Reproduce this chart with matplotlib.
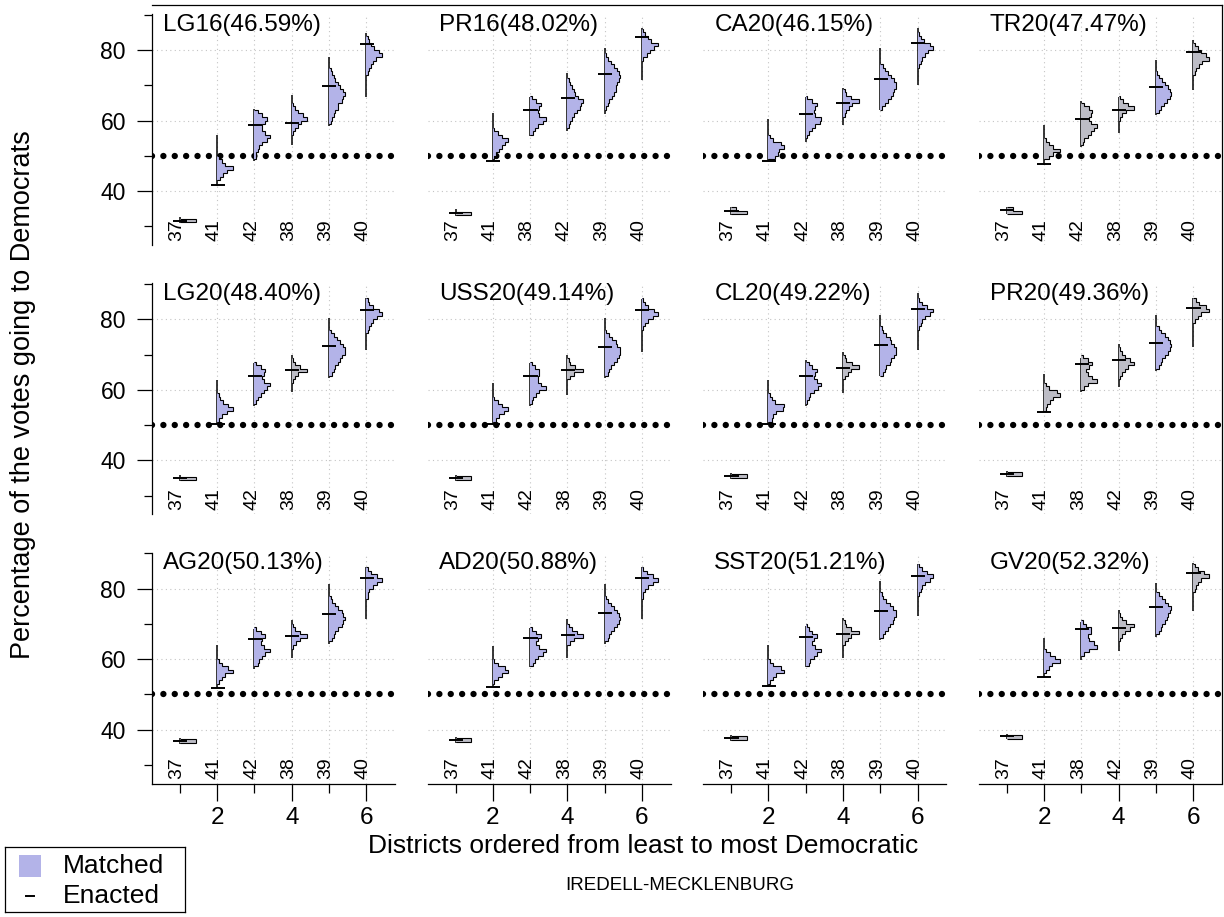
import matplotlib
matplotlib.use("Agg")
import matplotlib.pyplot as plt
from matplotlib.lines import Line2D
from matplotlib.patches import Rectangle

plt.rcParams["font.family"] = ["Liberation Sans", "DejaVu Sans"]

# ---------------------------------------------------------------- data
PLANS = ["LG16(46.59%)", "PR16(48.02%)", "CA20(46.15%)", "TR20(47.47%)",
         "LG20(48.40%)", "USS20(49.14%)", "CL20(49.22%)", "PR20(49.36%)",
         "AG20(50.13%)", "AD20(50.88%)", "SST20(51.21%)", "GV20(52.32%)"]

# districts in order from least to most Democratic, per election
DISTRICTS = [
    [37, 41, 42, 38, 39, 40],
    [37, 41, 38, 42, 39, 40],
    [37, 41, 42, 38, 39, 40],
    [37, 41, 42, 38, 39, 40],
    [37, 41, 42, 38, 39, 40],
    [37, 41, 42, 38, 39, 40],
    [37, 41, 42, 38, 39, 40],
    [37, 41, 38, 42, 39, 40],
    [37, 41, 42, 38, 39, 40],
    [37, 41, 42, 38, 39, 40],
    [37, 41, 42, 38, 39, 40],
    [37, 41, 38, 42, 39, 40],
]

# Democratic share under the enacted map
ENACTED = [
    [31.6, 41.6, 58.8, 59.2, 69.8, 81.6],
    [33.7, 48.4, 63.0, 66.5, 73.1, 83.8],
    [34.4, 48.4, 61.9, 64.9, 71.8, 82.1],
    [34.7, 47.7, 60.5, 63.0, 69.4, 79.3],
    [35.0, 50.3, 64.0, 65.5, 72.3, 82.5],
    [35.0, 50.2, 63.8, 65.5, 72.1, 82.6],
    [35.6, 50.3, 64.0, 66.1, 72.7, 82.8],
    [36.2, 53.6, 67.3, 68.5, 73.2, 83.1],
    [36.8, 51.7, 65.6, 66.5, 72.9, 83.0],
    [37.0, 52.0, 66.0, 66.8, 73.2, 83.0],
    [37.7, 52.3, 66.3, 67.1, 73.7, 83.5],
    [38.1, 54.9, 68.6, 68.8, 74.7, 84.3],
]

# full extent of the matched ensemble
RANGE_LO = [
    [30.8, 41.5, 48.4, 53.1, 58.5, 66.6],
    [33.0, 48.4, 55.5, 57.1, 61.9, 71.5],
    [33.3, 48.4, 54.0, 58.8, 63.0, 70.1],
    [33.4, 47.4, 52.6, 56.4, 61.6, 68.7],
    [34.2, 50.1, 55.3, 59.5, 63.3, 71.3],
    [34.1, 50.0, 55.3, 58.6, 63.3, 70.8],
    [34.8, 50.1, 55.3, 59.2, 63.9, 71.3],
    [35.4, 53.6, 59.5, 60.9, 65.2, 72.1],
    [36.0, 51.7, 57.3, 60.2, 64.4, 71.5],
    [36.2, 52.0, 57.8, 60.2, 64.4, 71.5],
    [36.9, 52.1, 57.8, 60.2, 65.4, 72.3],
    [37.3, 54.8, 59.8, 62.2, 66.2, 73.5],
]
RANGE_HI = [
    [32.6, 55.9, 63.2, 67.3, 78.1, 84.7],
    [35.0, 62.1, 66.8, 73.4, 80.5, 86.1],
    [35.6, 60.4, 66.8, 69.1, 80.5, 86.1],
    [35.6, 58.8, 65.4, 66.8, 77.2, 82.8],
    [35.8, 62.8, 67.5, 69.9, 80.3, 86.0],
    [35.9, 61.9, 67.5, 69.9, 80.3, 85.7],
    [36.5, 62.8, 68.5, 70.8, 81.2, 87.4],
    [37.0, 64.5, 69.0, 73.0, 81.2, 86.0],
    [37.6, 63.9, 68.5, 71.0, 81.4, 86.1],
    [37.8, 63.8, 68.7, 71.5, 81.4, 86.1],
    [38.5, 63.9, 69.4, 71.7, 82.1, 87.1],
    [38.9, 65.9, 70.4, 74.0, 81.7, 87.2],
]

# histogram of the matched ensemble: lower edge of first 1-point bin + counts
HIST_START = [
    [31.2, 43, 49, 56, 59, 73],
    [33.1, 49, 56, 58, 63, 77],
    [33.4, 49, 55, 61, 63, 75],
    [33.4, 49, 53, 60, 62, 73],
    [34.4, 51, 56, 62, 64, 76],
    [34.5, 51, 56, 63, 64, 77],
    [35.0, 51, 56, 63, 64, 77],
    [35.6, 54, 60, 63, 66, 79],
    [36.3, 53, 58, 63, 65, 77],
    [36.5, 53, 58, 64, 65, 77],
    [37.2, 53, 58, 64, 66, 78],
    [37.4, 56, 61, 65, 67, 79],
]
HIST_COUNTS = [
    [[10], [2, 4, 6, 10, 5, 3, 1], [1, 1, 2, 3, 5, 8, 10, 7, 5, 5, 7, 8, 5, 2],
     [1, 2, 4, 6, 10, 7, 4, 2, 1], [1, 2, 3, 4, 6, 6, 8, 9, 10, 9, 7, 6, 4, 3, 2, 1],
     [1, 2, 3, 4, 6, 10, 8, 5, 3, 2, 1]],
    [[10], [1, 2, 4, 6, 8, 10, 6, 3, 1], [2, 3, 5, 8, 10, 6, 5, 6, 7, 4, 1],
     [1, 2, 3, 4, 6, 8, 9, 10, 7, 5, 4, 3, 2, 1], [1, 2, 3, 5, 6, 7, 7, 8, 9, 10, 9, 8, 6, 4, 2, 1],
     [1, 3, 5, 8, 10, 6, 4, 2, 1]],
    [[10, 3], [4, 6, 7, 10, 8, 3, 1], [1, 2, 4, 6, 9, 10, 6, 5, 6, 7, 4, 1],
     [1, 2, 4, 6, 10, 5, 2, 1], [1, 3, 5, 7, 8, 9, 10, 10, 9, 7, 5, 3, 2],
     [1, 2, 3, 5, 7, 10, 8, 4, 2, 1]],
    [[10, 4], [3, 6, 10, 6, 3, 1], [1, 2, 4, 6, 8, 10, 6, 5, 6, 7, 5, 2],
     [1, 2, 5, 10, 6, 3, 1], [2, 3, 5, 7, 9, 10, 9, 8, 6, 4, 2, 1],
     [1, 2, 4, 6, 10, 8, 5, 3, 1]],
    [[10], [1, 3, 6, 10, 7, 4, 2, 1], [1, 2, 4, 6, 8, 10, 6, 5, 6, 7, 4, 1],
     [1, 2, 4, 10, 5, 2, 1], [2, 3, 4, 6, 7, 8, 10, 10, 9, 7, 5, 3, 1],
     [1, 2, 3, 4, 7, 10, 8, 4, 2, 1]],
    [[10], [2, 4, 7, 10, 6, 3, 1], [1, 2, 4, 6, 10, 7, 5, 5, 6, 6, 3, 1],
     [2, 4, 10, 5, 2, 1], [2, 3, 4, 6, 8, 9, 10, 10, 8, 7, 5, 3, 1],
     [1, 2, 4, 7, 10, 8, 4, 2, 1]],
    [[10], [2, 3, 5, 9, 10, 4, 2, 1], [1, 2, 3, 5, 8, 10, 7, 5, 6, 7, 4, 2],
     [1, 3, 5, 10, 6, 2, 1], [2, 3, 4, 6, 7, 9, 10, 10, 9, 7, 6, 4, 2, 1],
     [1, 2, 3, 5, 8, 10, 6, 3, 1]],
    [[10], [1, 2, 4, 6, 10, 8, 3, 1], [2, 4, 10, 7, 4, 3, 5, 7, 4, 1],
     [1, 2, 4, 6, 10, 7, 4, 2, 1], [2, 3, 4, 6, 8, 9, 10, 9, 8, 6, 3, 2],
     [1, 3, 5, 10, 8, 4, 2]],
    [[10], [1, 3, 5, 10, 7, 3, 1], [2, 3, 5, 7, 10, 6, 4, 5, 7, 4, 1],
     [1, 3, 5, 10, 5, 2, 1], [2, 3, 4, 6, 8, 9, 10, 9, 8, 6, 4, 2, 1],
     [1, 1, 2, 4, 7, 10, 7, 3, 1]],
    [[10], [1, 3, 6, 10, 8, 3, 1], [2, 3, 5, 8, 10, 6, 4, 5, 7, 4, 1],
     [2, 4, 10, 6, 3, 1], [2, 3, 4, 6, 8, 9, 10, 9, 8, 6, 4, 2, 1],
     [1, 1, 2, 4, 7, 10, 7, 3, 1]],
    [[10], [1, 3, 5, 10, 8, 3, 1], [2, 3, 5, 7, 10, 6, 4, 5, 7, 4, 2, 1],
     [1, 3, 5, 10, 5, 2, 1], [2, 3, 5, 6, 8, 9, 10, 10, 8, 6, 4, 2, 1],
     [1, 2, 3, 5, 8, 10, 6, 3, 1]],
    [[10], [1, 3, 5, 10, 7, 4, 1], [2, 5, 10, 8, 5, 4, 6, 6, 3, 1],
     [1, 2, 4, 7, 10, 5, 2, 1], [2, 3, 4, 6, 7, 8, 9, 10, 8, 6, 4, 2],
     [1, 2, 3, 5, 10, 7, 3, 1]],
]

# fill tone of each histogram: m = matched lavender, g = grey
SHADES = ["gmmmmm", "gmmmmm", "gmmmmm", "ggggmg", "gmmgmm", "gmmgmm",
          "gmmgmm", "ggggmg", "gmmmmm", "gmmmmm", "gmmgmm", "gmmgmg"]

# ---------------------------------------------------------------- style
W, H = 1224, 917
LAVENDER = "#b3b3e8"
GREY = "#bdbdc6"
FILL = {"m": LAVENDER, "g": GREY}
XLIM = (0.25, 6.77)
YLIM = (24.7, 90.2)
HALF_W = 0.42
BIN = 1.0

fig = plt.figure(figsize=(W / 100, H / 100), dpi=100)


def px_axes(left, top, width, height):
    return fig.add_axes([left / W, 1 - (top + height) / H, width / W, height / H])


for i, plan in enumerate(PLANS):
    r, c = divmod(i, 4)
    ax = px_axes(152 + 275.6 * c, 14 + 269.3 * r, 243, 231)
    ax.set_xlim(*XLIM)
    ax.set_ylim(*YLIM)
    for side in ("top", "right"):
        ax.spines[side].set_visible(False)
    ax.spines["left"].set_visible(c == 0)
    ax.spines["bottom"].set_visible(r == 2)
    for sp in ax.spines.values():
        sp.set_linewidth(0.9)

    if c == 0:
        ax.set_yticks([40, 60, 80])
        ax.set_yticks([30, 50, 70, 90], minor=True)
        ax.tick_params(axis="y", which="major", length=10.8, width=0.9,
                       labelsize=16.5, pad=8)
        ax.tick_params(axis="y", which="minor", length=5.8, width=0.9)
    else:
        ax.set_yticks([])
    if r == 2:
        ax.set_xticks([2, 4, 6])
        ax.set_xticks([1, 3, 5], minor=True)
        ax.tick_params(axis="x", which="major", length=12.2, width=0.9,
                       labelsize=17.5, pad=5)
        ax.tick_params(axis="x", which="minor", length=6.5, width=0.9)
    else:
        ax.set_xticks([])

    # light dotted grid
    ax.hlines([40, 60, 80], XLIM[0], XLIM[1], colors="#c4c4c4",
              linestyles=(0, (1, 3)), linewidth=0.8, zorder=0)
    ax.vlines([2, 3, 4, 5, 6], YLIM[0], YLIM[1], colors="#c4c4c4",
              linestyles=(0, (1, 3)), linewidth=0.8, zorder=0)

    # 50% reference line
    ax.plot(XLIM, [50, 50], color="black", linewidth=4.6,
            linestyle=(0, (0.001, 1.78)), dash_capstyle="round", zorder=2)

    for k in range(6):
        x = k + 1
        counts = HIST_COUNTS[i][k]
        peak = max(counts)
        widths = [x + HALF_W * n / peak for n in counts]
        edges = [HIST_START[i][k] + BIN * j for j in range(len(counts) + 1)]
        ax.vlines(x, RANGE_LO[i][k], RANGE_HI[i][k], color="black",
                  linewidth=1.1, zorder=3)
        ax.stairs(widths, edges, orientation="horizontal", baseline=x,
                  fill=True, color=FILL[SHADES[i][k]], zorder=3)
        ax.stairs(widths, edges, orientation="horizontal", baseline=x,
                  fill=False, color="black", linewidth=0.8, zorder=4)
        ax.hlines(ENACTED[i][k], x - 0.18, x + 0.2, color="black",
                  linewidth=1.4, zorder=5)
        ax.text(x - 0.08, 29.0, str(DISTRICTS[i][k]), rotation=90,
                ha="center", va="center", fontsize=14)

    ax.text(0.55, 87.2, plan, ha="left", va="center", fontsize=17.5)

# outer frame along the top and right
fig.add_artist(Line2D([152 / W, 1222 / W], [1 - 5 / H, 1 - 5 / H],
                      color="black", linewidth=0.9))
fig.add_artist(Line2D([1222 / W, 1222 / W], [1 - 5 / H, 1 - 783 / H],
                      color="black", linewidth=0.9))

fig.text(23 / W, 1 - 395 / H, "Percentage of the votes going to Democrats",
         rotation=90, ha="center", va="center", fontsize=19.5)
fig.text(643 / W, 1 - 846 / H, "Districts ordered from least to most Democratic",
         ha="center", va="center", fontsize=19)
fig.text(680 / W, 1 - 885 / H, "IREDELL-MECKLENBURG",
         ha="center", va="center", fontsize=13.5)

# legend box
lax = px_axes(5, 847, 180, 65)
lax.set_xlim(0, 180)
lax.set_ylim(65, 0)
lax.set_xticks([])
lax.set_yticks([])
for sp in lax.spines.values():
    sp.set_linewidth(0.9)
lax.add_patch(Rectangle((14, 8), 22, 22, facecolor=LAVENDER, edgecolor="none"))
lax.text(58, 19, "Matched", ha="left", va="center", fontsize=19)
lax.plot([21, 29], [49, 49], color="black", linewidth=1.4)
lax.text(58, 49, "Enacted", ha="left", va="center", fontsize=19)

fig.savefig("out.png", dpi=100)
